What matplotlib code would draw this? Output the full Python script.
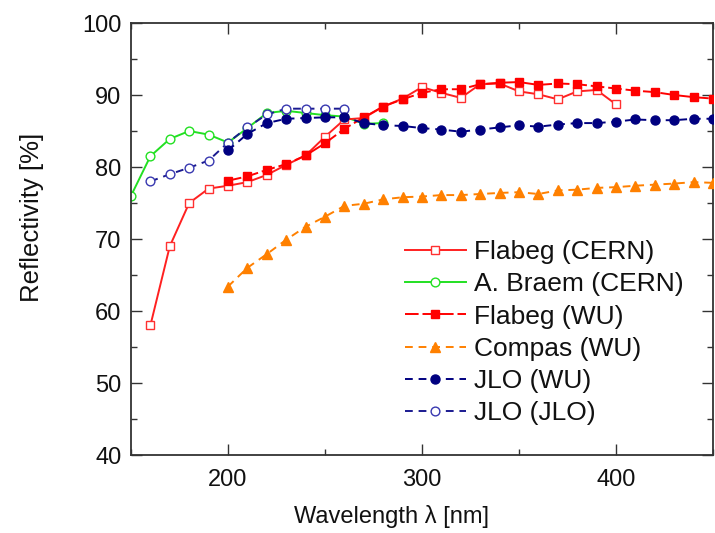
import matplotlib
matplotlib.use("Agg")
import matplotlib.pyplot as plt
from matplotlib.ticker import MultipleLocator

plt.rcParams['font.family'] = ['Liberation Sans', 'DejaVu Sans']

# Flabeg (CERN)
wl_fc = list(range(160, 401, 10))
R_fc = [58.0, 69.0, 75.0, 77.0, 77.4, 77.9, 78.9, 80.3, 81.6, 84.2, 86.6, 86.8, 88.4,
        89.5, 91.1, 90.3, 89.6, 91.5, 91.6, 90.5, 90.1, 89.4, 90.5, 90.7, 88.7]
# A. Braem (CERN)
wl_braem = list(range(150, 281, 10))
R_braem = [76.0, 81.5, 83.9, 85.0, 84.5, 83.4, 85.4, 87.5, 87.8, 87.5, 87.2, 87.0, 86.0, 86.1]
# Flabeg (WU)
wl_fwu = list(range(200, 451, 10))
R_fwu = [78.1, 78.7, 79.6, 80.4, 81.6, 83.3, 85.3, 86.9, 88.4, 89.4,
         90.3, 90.8, 90.8, 91.5, 91.7, 91.8, 91.4, 91.6, 91.5, 91.2,
         90.9, 90.6, 90.4, 90.0, 89.7, 89.5]
# Compas (WU)
wl_compas = list(range(200, 451, 10))
R_compas = [63.4, 66.0, 67.9, 69.9, 71.7, 73.1, 74.6, 74.9, 75.5, 75.8,
            75.9, 76.1, 76.1, 76.25, 76.4, 76.5, 76.25, 76.75, 76.85, 77.1,
            77.2, 77.4, 77.55, 77.7, 77.9, 77.8]
# JLO (WU)
wl_jwu = list(range(200, 451, 10))
R_jwu = [82.3, 84.6, 86.1, 86.7, 86.8, 86.9, 86.9, 86.1, 85.8, 85.7,
         85.4, 85.2, 84.9, 85.2, 85.5, 85.8, 85.6, 85.9, 86.1, 86.1,
         86.3, 86.6, 86.5, 86.5, 86.7, 86.7]
# JLO (JLO)
wl_jj = list(range(160, 261, 10))
R_jj = [78.0, 79.0, 79.9, 80.9, 83.4, 85.5, 87.3, 88.1, 88.1, 88.1, 88.1]

labels = ["Flabeg (CERN)", "A. Braem (CERN)", "Flabeg (WU)", "Compas (WU)", "JLO (WU)", "JLO (JLO)"]

fig = plt.figure(figsize=(7.15, 5.33), dpi=100)
ax = fig.add_axes([131/715, 1-455/533, 582/715, 432/533])

lw = 1.4
ax.plot(wl_fc, R_fc, color='#FF2020', lw=lw, ls='-', marker='s', ms=6,
        mfc='white', mec='#FF3030', mew=1.0, label=labels[0], zorder=3)
ax.plot(wl_braem, R_braem, color='#22E022', lw=lw, ls='-', marker='o', ms=6.3,
        mfc='white', mec='#22E022', mew=1.0, label=labels[1], zorder=2)
ax.plot(wl_fwu, R_fwu, color='#FF0000', lw=lw, ls=(0, (7, 2)), marker='s', ms=6,
        mfc='#FF0000', mec='#FF0000', label=labels[2], zorder=4)
ax.plot(wl_compas, R_compas, color='#FF8000', lw=lw, ls=(0, (4, 3)), marker='^', ms=7.5,
        mfc='#FF8000', mec='#FF8000', label=labels[3], zorder=3)
ax.plot(wl_jwu, R_jwu, color='#000080', lw=lw, ls=(0, (4, 3)), marker='o', ms=6.5,
        mfc='#000080', mec='#000080', label=labels[4], zorder=4)
ax.plot(wl_jj, R_jj, color='#1a1a90', lw=lw, ls=(0, (4, 3)), marker='o', ms=6.3,
        mfc='white', mec='#3838B0', mew=1.0, label=labels[5], zorder=3)

ax.set_xlim(150, 450)
ax.set_ylim(40, 100)
ax.xaxis.set_major_locator(MultipleLocator(100))
ax.xaxis.set_minor_locator(MultipleLocator(50))
ax.yaxis.set_major_locator(MultipleLocator(10))
ax.yaxis.set_minor_locator(MultipleLocator(5))
ax.tick_params(which='both', direction='in', top=True, right=True, width=1.0,
               colors='#333333', labelcolor='#111111')
ax.tick_params(which='major', length=8, labelsize=17)
ax.tick_params(axis='x', which='major', pad=10)
ax.tick_params(axis='y', which='major', pad=7)
ax.tick_params(which='minor', length=4)
for s in ax.spines.values():
    s.set_linewidth(1.3)
    s.set_color('#333333')

ax.set_xlabel("Wavelength λ [nm]", fontsize=17, color='#111111')
ax.set_ylabel("Reflectivity [%]", fontsize=18.5, color='#111111')
ax.xaxis.label.set_va('center')
ax.yaxis.label.set_va('center')
ax.xaxis.set_label_coords((391 - 131) / 582, (455 - 516) / 432)
ax.yaxis.set_label_coords((32 - 131) / 582, (455 - 217) / 432)

leg = ax.legend(loc='upper left', bbox_to_anchor=(0.471, 0.497), frameon=False,
                fontsize=19, handlelength=2.3, handletextpad=0.3,
                labelspacing=0.31, borderaxespad=0, borderpad=0)
for t in leg.get_texts():
    t.set_color('#111111')

fig.savefig("out.png", dpi=100)
